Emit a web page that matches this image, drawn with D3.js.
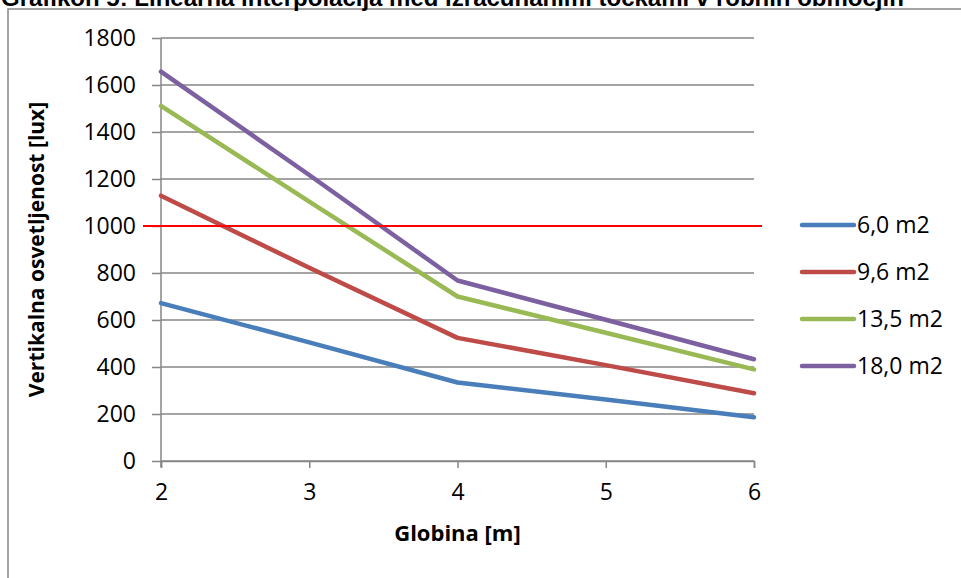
<!DOCTYPE html>
<html>
<head>
<meta charset="utf-8">
<script src="https://cdn.jsdelivr.net/npm/d3@7"></script>
<style>
  body { margin: 0; background: #fff; }
  svg { display: block; }
</style>
</head>
<body>
<div id="chart"></div>
<script>
// data
const depths = [2, 3, 4, 5, 6];
const seriesNames = ["6,0 m2", "9,6 m2", "13,5 m2", "18,0 m2"];
const values60 = [672, 505, 334, 262, 186];
const values96 = [1129, 822, 524, 408, 288];
const values135 = [1511, 1104, 700, 546, 390];
const values180 = [1657, 1217, 768, 601, 433];
const yTicks = [0, 200, 400, 600, 800, 1000, 1200, 1400, 1600, 1800];
const limit = 1000;
const colors = ["#4a7ebb", "#be4b48", "#98b954", "#7d60a0"];

const series = [values60, values96, values135, values180].map((vals, i) => ({
  name: seriesNames[i],
  color: colors[i],
  points: vals.map((v, j) => ({x: depths[j], y: v}))
}));

const width = 961, height = 578;
const plot = {left: 161, right: 754, top: 38, bottom: 461};
const tickFont = "'Open Sans', sans-serif";

const svg = d3.select("#chart").append("svg")
  .attr("width", width)
  .attr("height", height);

// chart frame
svg.append("rect")
  .attr("x", 8).attr("y", 9)
  .attr("width", 1000).attr("height", 700)
  .attr("fill", "#fff")
  .attr("stroke", "#868686")
  .attr("stroke-width", 1.5);

// title (cut off at the top, like the source)
svg.append("text")
  .attr("x", 1).attr("y", 6)
  .attr("font-family", "'Liberation Sans', Arial, sans-serif")
  .attr("font-weight", "bold")
  .attr("font-size", 24)
  .attr("fill", "#000")
  .text("Grafikon 5: Linearna interpolacija med izračunanimi točkami v robnih območjih");

const x = d3.scaleLinear().domain([2, 6]).range([plot.left, plot.right]);
const y = d3.scaleLinear().domain([0, 1800]).range([plot.bottom, plot.top]);

// y ticks
const yAxis = svg.append("g")
  .attr("transform", `translate(${plot.left},0)`)
  .call(d3.axisLeft(y).tickValues(yTicks).tickSize(9).tickPadding(16).tickFormat(d3.format("d")));
yAxis.select(".domain").remove();
yAxis.selectAll("line").attr("stroke", "#868686").attr("stroke-width", 1.5);
yAxis.selectAll("text")
  .attr("font-family", tickFont).attr("font-size", 23).attr("fill", "#000");

// gridlines
svg.append("g")
  .selectAll("line")
  .data(yTicks)
  .join("line")
  .attr("x1", plot.left).attr("x2", plot.right)
  .attr("y1", d => y(d)).attr("y2", d => y(d))
  .attr("stroke", "#868686").attr("stroke-width", 1.5);

// x axis
const xAxis = svg.append("g")
  .attr("transform", `translate(0,${plot.bottom})`)
  .call(d3.axisBottom(x).tickValues(depths).tickSize(7).tickPadding(16).tickFormat(d3.format("d")));
xAxis.select(".domain").attr("stroke", "#868686").attr("stroke-width", 1.5);
xAxis.selectAll("line").attr("stroke", "#868686").attr("stroke-width", 1.5);
xAxis.selectAll("text")
  .attr("font-family", tickFont).attr("font-size", 23).attr("fill", "#000");

// vertical axis line
svg.append("line")
  .attr("x1", plot.left).attr("x2", plot.left)
  .attr("y1", plot.top).attr("y2", plot.bottom + 6)
  .attr("stroke", "#868686").attr("stroke-width", 1.5);

// series lines
const line = d3.line()
  .x(d => x(d.x))
  .y(d => y(d.y));

svg.append("g")
  .selectAll("path")
  .data(series)
  .join("path")
  .attr("d", d => line(d.points))
  .attr("fill", "none")
  .attr("stroke", d => d.color)
  .attr("stroke-width", 4.5)
  .attr("stroke-linecap", "round")
  .attr("stroke-linejoin", "round");

// 1000 lux limit
svg.append("line")
  .attr("x1", 143).attr("x2", 762)
  .attr("y1", y(limit)).attr("y2", y(limit))
  .attr("stroke", "#ff0000").attr("stroke-width", 2);

// axis titles
svg.append("text")
  .attr("transform", `translate(44,${(plot.top + plot.bottom) / 2}) rotate(-90)`)
  .attr("text-anchor", "middle")
  .attr("font-family", tickFont).attr("font-weight", "bold").attr("font-size", 21)
  .text("Vertikalna osvetljenost [lux]");

svg.append("text")
  .attr("x", (plot.left + plot.right) / 2).attr("y", 541)
  .attr("text-anchor", "middle")
  .attr("font-family", tickFont).attr("font-weight", "bold").attr("font-size", 22)
  .text("Globina [m]");

// legend
const legend = svg.append("g")
  .selectAll("g")
  .data(series)
  .join("g")
  .attr("transform", (d, i) => `translate(800,${225 + i * 47})`);
legend.append("line")
  .attr("x1", 2).attr("x2", 54)
  .attr("stroke", d => d.color)
  .attr("stroke-width", 4.5)
  .attr("stroke-linecap", "round");
legend.append("text")
  .attr("x", 57).attr("y", 8)
  .attr("font-family", tickFont).attr("font-size", 23)
  .text(d => d.name);
</script>
</body>
</html>
